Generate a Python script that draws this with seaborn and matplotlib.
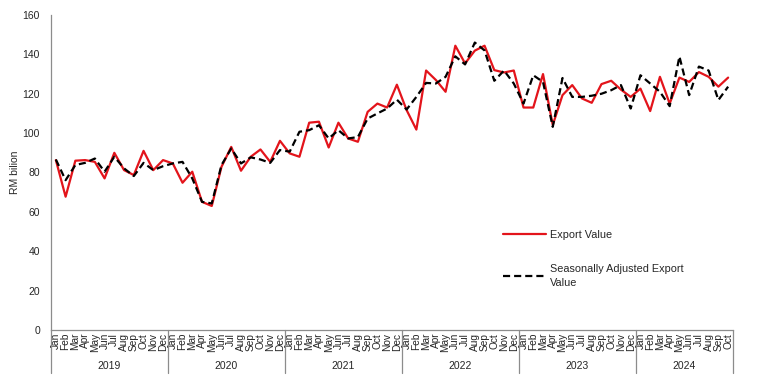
import numpy as np
import pandas as pd
import seaborn as sns
import matplotlib.pyplot as plt
import matplotlib.transforms as mtransforms

# Monthly export values, RM billion, Jan 2019 - Oct 2024
years = ["2019", "2020", "2021", "2022", "2023", "2024"]
month_names = ["Jan", "Feb", "Mar", "Apr", "May", "Jun",
               "Jul", "Aug", "Sep", "Oct", "Nov", "Dec"]

export_value = [
    86.3, 67.7, 86.0, 86.3, 85.4, 77.0, 90.0, 81.2, 78.7, 91.0, 81.2, 86.3,   # 2019
    84.6, 74.8, 80.4, 65.1, 63.0, 82.9, 93.0, 80.9, 88.0, 91.7, 85.4, 96.1,   # 2020
    89.7, 88.0, 105.3, 105.8, 92.7, 105.3, 97.3, 95.6, 110.8, 115.0, 113.0, 124.6,  # 2021
    111.7, 101.8, 131.8, 127.0, 121.0, 144.4, 135.4, 141.9, 144.4, 132.0, 130.8, 131.8,  # 2022
    113.0, 113.0, 130.0, 104.1, 119.3, 124.4, 117.6, 115.4, 124.9, 126.6, 122.1, 118.4,  # 2023
    122.6, 111.2, 128.6, 115.0, 128.2, 126.0, 131.0, 128.6, 123.6, 128.2,  # 2024
]

sa_export_value = [
    86.6, 76.1, 83.8, 84.9, 87.1, 80.4, 88.0, 82.1, 78.2, 84.9, 81.2, 83.2,
    84.6, 85.4, 77.0, 65.1, 64.3, 83.8, 92.2, 84.6, 87.7, 86.6, 84.9, 91.4,
    90.6, 100.7, 101.5, 104.0, 97.3, 101.5, 97.3, 98.0, 107.4, 110.0, 112.5, 117.0,
    112.0, 118.4, 125.5, 125.2, 128.6, 139.0, 134.9, 146.0, 142.0, 126.6, 131.8, 125.2,
    115.0, 129.4, 126.0, 103.2, 128.0, 118.4, 118.4, 119.0, 120.0, 121.8, 124.4, 112.5,
    129.4, 125.2, 121.0, 113.7, 138.9, 119.3, 133.8, 131.8, 116.8, 123.6,
]

n = len(export_value)
months = [month_names[i % 12] for i in range(n)]
idx = np.arange(n)

df = pd.DataFrame({"idx": idx, "export": export_value, "sa": sa_export_value})

sns.set_style("white")
plt.rcParams['font.family'] = ['Liberation Sans', 'DejaVu Sans']

fig = plt.figure(figsize=(7.66, 3.91), dpi=100)
ax = fig.add_axes([51 / 766, 61 / 391, 682 / 766, 315 / 391])

sns.lineplot(data=df, x="idx", y="export", ax=ax, color="#e3141b",
             linewidth=1.6, label="Export Value")
sns.lineplot(data=df, x="idx", y="sa", ax=ax, color="black",
             linewidth=1.6, linestyle=(0, (3.2, 1.8)),
             label="Seasonally Adjusted Export\nValue")

ax.set_xlim(-0.5, n - 0.5)
ax.set_ylim(0, 160)
ax.set_yticks(range(0, 161, 20))
ax.tick_params(axis="y", labelsize=7.5, length=0, pad=8)
ax.set_ylabel("RM bilion", fontsize=7.5, labelpad=2)

ax.set_xticks(idx)
ax.set_xticklabels(months, rotation=90, fontsize=7.3)
ax.tick_params(axis="x", length=0, pad=2)
ax.set_xlabel("")

for s in ["top", "right"]:
    ax.spines[s].set_visible(False)
for s in ["left", "bottom"]:
    ax.spines[s].set_color("#8c8c8c")
    ax.spines[s].set_linewidth(0.9)

# year separators and labels under the month labels
trans = mtransforms.blended_transform_factory(ax.transData, ax.transAxes)
for k in range(len(years) + 1):
    xb = min(k * 12, n) - 0.5
    ax.plot([xb, xb], [0, -0.137], transform=trans, color="#8c8c8c",
            linewidth=0.9, clip_on=False)
for k, yr in enumerate(years):
    start = k * 12
    end = min(start + 12, n)
    ax.text((start + end - 1) / 2, -0.115, yr, transform=trans,
            ha="center", va="center", fontsize=7.5)

leg = ax.legend(loc="upper left", bbox_to_anchor=(0.649, 0.35), frameon=False,
                fontsize=7.8, handlelength=3.9, handletextpad=0.4,
                labelspacing=2.3)
for t in leg.get_texts():
    t.set_linespacing(1.45)

fig.savefig("out.png", dpi=100)
